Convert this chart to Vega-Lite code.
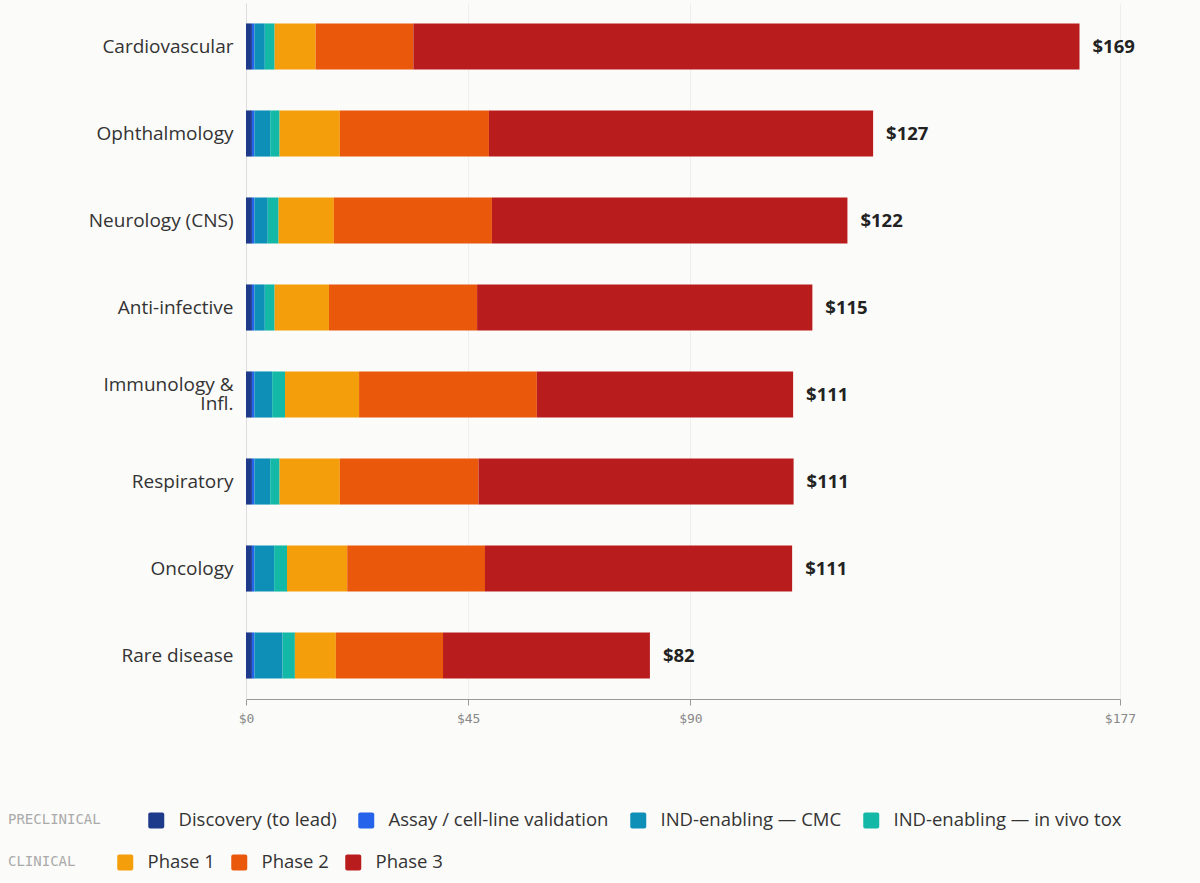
{
  "$schema": "https://vega.github.io/schema/vega-lite/v6.json",
  "background": "#fbfbf9",
  "padding": {"left": 8, "top": 3, "right": 80, "bottom": 30},
  "width": 874,
  "height": 696,
  "config": {
    "view": {"stroke": null},
    "font": "Open Sans"
  },
  "data": {
    "values": [
      {"category": "Cardiovascular", "stage": "Discovery (to lead)", "group": "pre", "order": 1, "value": 1.2},
      {"category": "Cardiovascular", "stage": "Assay / cell-line validation", "group": "pre", "order": 2, "value": 0.5},
      {"category": "Cardiovascular", "stage": "IND-enabling — CMC", "group": "pre", "order": 3, "value": 2.1},
      {"category": "Cardiovascular", "stage": "IND-enabling — in vivo tox", "group": "pre", "order": 4, "value": 2.0},
      {"category": "Cardiovascular", "stage": "Phase 1", "group": "clin", "order": 5, "value": 8.3},
      {"category": "Cardiovascular", "stage": "Phase 2", "group": "clin", "order": 6, "value": 19.8},
      {"category": "Cardiovascular", "stage": "Phase 3", "group": "clin", "order": 7, "value": 134.9},

      {"category": "Ophthalmology", "stage": "Discovery (to lead)", "group": "pre", "order": 1, "value": 1.2},
      {"category": "Ophthalmology", "stage": "Assay / cell-line validation", "group": "pre", "order": 2, "value": 0.5},
      {"category": "Ophthalmology", "stage": "IND-enabling — CMC", "group": "pre", "order": 3, "value": 3.2},
      {"category": "Ophthalmology", "stage": "IND-enabling — in vivo tox", "group": "pre", "order": 4, "value": 1.9},
      {"category": "Ophthalmology", "stage": "Phase 1", "group": "clin", "order": 5, "value": 12.2},
      {"category": "Ophthalmology", "stage": "Phase 2", "group": "clin", "order": 6, "value": 30.2},
      {"category": "Ophthalmology", "stage": "Phase 3", "group": "clin", "order": 7, "value": 77.8},

      {"category": "Neurology (CNS)", "stage": "Discovery (to lead)", "group": "pre", "order": 1, "value": 1.2},
      {"category": "Neurology (CNS)", "stage": "Assay / cell-line validation", "group": "pre", "order": 2, "value": 0.5},
      {"category": "Neurology (CNS)", "stage": "IND-enabling — CMC", "group": "pre", "order": 3, "value": 2.7},
      {"category": "Neurology (CNS)", "stage": "IND-enabling — in vivo tox", "group": "pre", "order": 4, "value": 2.2},
      {"category": "Neurology (CNS)", "stage": "Phase 1", "group": "clin", "order": 5, "value": 11.2},
      {"category": "Neurology (CNS)", "stage": "Phase 2", "group": "clin", "order": 6, "value": 32.0},
      {"category": "Neurology (CNS)", "stage": "Phase 3", "group": "clin", "order": 7, "value": 72.0},

      {"category": "Anti-infective", "stage": "Discovery (to lead)", "group": "pre", "order": 1, "value": 1.2},
      {"category": "Anti-infective", "stage": "Assay / cell-line validation", "group": "pre", "order": 2, "value": 0.5},
      {"category": "Anti-infective", "stage": "IND-enabling — CMC", "group": "pre", "order": 3, "value": 2.1},
      {"category": "Anti-infective", "stage": "IND-enabling — in vivo tox", "group": "pre", "order": 4, "value": 2.0},
      {"category": "Anti-infective", "stage": "Phase 1", "group": "clin", "order": 5, "value": 11.0},
      {"category": "Anti-infective", "stage": "Phase 2", "group": "clin", "order": 6, "value": 30.0},
      {"category": "Anti-infective", "stage": "Phase 3", "group": "clin", "order": 7, "value": 67.9},

      {"category": "Immunology & Infl.", "stage": "Discovery (to lead)", "group": "pre", "order": 1, "value": 1.2},
      {"category": "Immunology & Infl.", "stage": "Assay / cell-line validation", "group": "pre", "order": 2, "value": 0.5},
      {"category": "Immunology & Infl.", "stage": "IND-enabling — CMC", "group": "pre", "order": 3, "value": 3.6},
      {"category": "Immunology & Infl.", "stage": "IND-enabling — in vivo tox", "group": "pre", "order": 4, "value": 2.6},
      {"category": "Immunology & Infl.", "stage": "Phase 1", "group": "clin", "order": 5, "value": 15.0},
      {"category": "Immunology & Infl.", "stage": "Phase 2", "group": "clin", "order": 6, "value": 36.0},
      {"category": "Immunology & Infl.", "stage": "Phase 3", "group": "clin", "order": 7, "value": 51.9},

      {"category": "Respiratory", "stage": "Discovery (to lead)", "group": "pre", "order": 1, "value": 1.2},
      {"category": "Respiratory", "stage": "Assay / cell-line validation", "group": "pre", "order": 2, "value": 0.5},
      {"category": "Respiratory", "stage": "IND-enabling — CMC", "group": "pre", "order": 3, "value": 3.2},
      {"category": "Respiratory", "stage": "IND-enabling — in vivo tox", "group": "pre", "order": 4, "value": 1.9},
      {"category": "Respiratory", "stage": "Phase 1", "group": "clin", "order": 5, "value": 12.2},
      {"category": "Respiratory", "stage": "Phase 2", "group": "clin", "order": 6, "value": 28.1},
      {"category": "Respiratory", "stage": "Phase 3", "group": "clin", "order": 7, "value": 63.8},

      {"category": "Oncology", "stage": "Discovery (to lead)", "group": "pre", "order": 1, "value": 1.2},
      {"category": "Oncology", "stage": "Assay / cell-line validation", "group": "pre", "order": 2, "value": 0.5},
      {"category": "Oncology", "stage": "IND-enabling — CMC", "group": "pre", "order": 3, "value": 4.0},
      {"category": "Oncology", "stage": "IND-enabling — in vivo tox", "group": "pre", "order": 4, "value": 2.6},
      {"category": "Oncology", "stage": "Phase 1", "group": "clin", "order": 5, "value": 12.2},
      {"category": "Oncology", "stage": "Phase 2", "group": "clin", "order": 6, "value": 27.9},
      {"category": "Oncology", "stage": "Phase 3", "group": "clin", "order": 7, "value": 62.2},

      {"category": "Rare disease", "stage": "Discovery (to lead)", "group": "pre", "order": 1, "value": 1.2},
      {"category": "Rare disease", "stage": "Assay / cell-line validation", "group": "pre", "order": 2, "value": 0.5},
      {"category": "Rare disease", "stage": "IND-enabling — CMC", "group": "pre", "order": 3, "value": 5.7},
      {"category": "Rare disease", "stage": "IND-enabling — in vivo tox", "group": "pre", "order": 4, "value": 2.5},
      {"category": "Rare disease", "stage": "Phase 1", "group": "clin", "order": 5, "value": 8.3},
      {"category": "Rare disease", "stage": "Phase 2", "group": "clin", "order": 6, "value": 21.7},
      {"category": "Rare disease", "stage": "Phase 3", "group": "clin", "order": 7, "value": 41.9}
    ]
  },
  "transform": [
    {"stack": "value", "groupby": ["category"], "sort": [{"field": "order", "order": "ascending"}], "as": ["x0", "x1"]}
  ],
  "encoding": {
    "y": {
      "field": "category",
      "type": "nominal",
      "sort": ["Cardiovascular", "Ophthalmology", "Neurology (CNS)", "Anti-infective", "Immunology & Infl.", "Respiratory", "Oncology", "Rare disease"],
      "scale": {"paddingInner": 0.47, "paddingOuter": 0.235},
      "axis": {
        "title": null,
        "ticks": false,
        "domain": true,
        "domainColor": "#dddddd",
        "labelFont": "Open Sans",
        "labelFontSize": 19,
        "labelColor": "#333333",
        "labelPadding": 13,
        "labelLimit": 250,
        "labelLineHeight": 19,
        "labelOffset": {"condition": {"test": "datum.value == 'Immunology & Infl.'", "value": -9.5}, "value": 0},
        "labelExpr": "datum.label == 'Immunology & Infl.' ? ['Immunology &', 'Infl.'] : datum.label"
      }
    }
  },
  "layer": [
    {
      "transform": [{"filter": "datum.group == 'pre'"}],
      "mark": {"type": "bar"},
      "encoding": {
        "x": {
          "field": "x0",
          "type": "quantitative",
          "scale": {"domain": [0, 177], "nice": false},
          "axis": {
            "title": null,
            "values": [0, 45, 90, 177],
            "labelExpr": "'$' + datum.value",
            "labelFont": "DejaVu Sans Mono",
            "labelFontSize": 13,
            "labelColor": "#888888",
            "labelFlush": false,
            "labelPadding": 7,
            "tickColor": "#999999",
            "tickSize": 6,
            "domainColor": "#999999",
            "grid": true,
            "gridColor": "#eeeeee"
          }
        },
        "x2": {"field": "x1"},
        "color": {
          "field": "stage",
          "type": "nominal",
          "scale": {
            "domain": ["Discovery (to lead)", "Assay / cell-line validation", "IND-enabling — CMC", "IND-enabling — in vivo tox"],
            "range": ["#1e3a8a", "#2563eb", "#0e8fb8", "#14b8a6"]
          },
          "legend": {
            "title": "PRECLINICAL",
            "orient": "none",
            "legendX": -238,
            "legendY": 808,
            "direction": "horizontal",
            "titleOrient": "left",
            "titleFont": "DejaVu Sans Mono",
            "titleFontSize": 14,
            "titleFontWeight": "normal",
            "titleColor": "#aaaaaa",
            "titlePadding": 46,
            "titleBaseline": "middle",
            "labelFont": "Open Sans",
            "labelFontSize": 18.5,
            "labelColor": "#333333",
            "labelOffset": 13,
            "labelLimit": 350,
            "columnPadding": 20,
            "padding": 0,
            "symbolType": "M-0.75,-1H0.75A0.25,0.25 0 0 1 1,-0.75V0.75A0.25,0.25 0 0 1 0.75,1H-0.75A0.25,0.25 0 0 1 -1,0.75V-0.75A0.25,0.25 0 0 1 -0.75,-1Z",
            "symbolSize": 256,
            "symbolStrokeWidth": 0,
            "symbolOpacity": 1
          }
        }
      }
    },
    {
      "transform": [{"filter": "datum.group == 'clin'"}],
      "mark": {"type": "bar"},
      "encoding": {
        "x": {"field": "x0", "type": "quantitative"},
        "x2": {"field": "x1"},
        "color": {
          "field": "stage",
          "type": "nominal",
          "scale": {
            "domain": ["Phase 1", "Phase 2", "Phase 3"],
            "range": ["#f59e0b", "#ea580c", "#b91c1c"]
          },
          "legend": {
            "title": "CLINICAL",
            "orient": "none",
            "legendX": -238,
            "legendY": 850,
            "direction": "horizontal",
            "titleOrient": "left",
            "titleFont": "DejaVu Sans Mono",
            "titleFontSize": 14,
            "titleFontWeight": "normal",
            "titleColor": "#aaaaaa",
            "titlePadding": 40,
            "titleBaseline": "middle",
            "labelFont": "Open Sans",
            "labelFontSize": 18.5,
            "labelColor": "#333333",
            "labelOffset": 13,
            "labelLimit": 350,
            "columnPadding": 15,
            "padding": 0,
            "symbolType": "M-0.75,-1H0.75A0.25,0.25 0 0 1 1,-0.75V0.75A0.25,0.25 0 0 1 0.75,1H-0.75A0.25,0.25 0 0 1 -1,0.75V-0.75A0.25,0.25 0 0 1 -0.75,-1Z",
            "symbolSize": 256,
            "symbolStrokeWidth": 0,
            "symbolOpacity": 1
          }
        }
      }
    },
    {
      "transform": [{"aggregate": [{"op": "sum", "field": "value", "as": "total"}], "groupby": ["category"]}],
      "mark": {"type": "text", "align": "left", "baseline": "middle", "dx": 13, "font": "Open Sans", "fontWeight": "bold", "fontSize": 18.5, "color": "#222222"},
      "encoding": {
        "x": {"field": "total", "type": "quantitative"},
        "text": {"field": "total", "type": "quantitative", "format": "$.0f"}
      }
    }
  ],
  "resolve": {"scale": {"color": "independent"}}
}
